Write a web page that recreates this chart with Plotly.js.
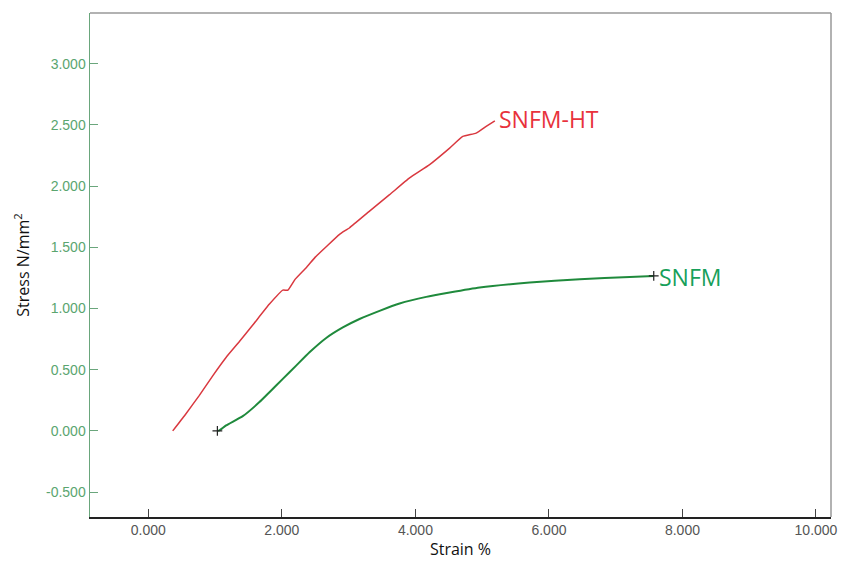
<!DOCTYPE html>
<html>
<head>
<meta charset="utf-8">
<script src="https://cdn.plot.ly/plotly-3.0.1.min.js"></script>
<style>html,body{margin:0;padding:0;background:#fff;}#chart{width:842px;height:562px;}</style>
</head>
<body>
<div id="chart"></div>
<script>
// SNFM-HT (red)
const htStrain = [0.365, 0.55, 0.764, 0.964, 1.164, 1.364, 1.564, 1.814, 2.014, 2.09, 2.2, 2.364, 2.5, 2.664, 2.864, 3.014, 3.313, 3.613, 3.913, 4.213, 4.513, 4.71, 4.91, 5.06, 5.19];
const htStress = [0.0, 0.13, 0.29, 0.45, 0.6, 0.73, 0.865, 1.036, 1.15, 1.15, 1.24, 1.334, 1.42, 1.505, 1.606, 1.66, 1.796, 1.93, 2.067, 2.176, 2.311, 2.406, 2.433, 2.488, 2.534];
// SNFM (green)
const snStrain = [1.034, 1.064, 1.165, 1.414, 1.664, 1.814, 2.014, 2.214, 2.414, 2.664, 2.913, 3.163, 3.463, 3.763, 4.163, 4.513, 4.963, 5.712, 6.462, 7.21, 7.57];
const snStress = [0.0, 0.004, 0.045, 0.12, 0.235, 0.316, 0.425, 0.533, 0.642, 0.759, 0.845, 0.914, 0.981, 1.041, 1.095, 1.13, 1.171, 1.212, 1.239, 1.258, 1.266];
const xTicks = [0, 2, 4, 6, 8, 10];
const xTickText = ["0.000", "2.000", "4.000", "6.000", "8.000", "10.000"];
const yTicks = [-0.5, 0, 0.5, 1, 1.5, 2, 2.5, 3];
const yTickText = ["-0.500", "0.000", "0.500", "1.000", "1.500", "2.000", "2.500", "3.000"];
const seriesNames = ["SNFM-HT", "SNFM"];

const traces = [
  {x: htStrain, y: htStress, mode: 'lines', name: seriesNames[0], line: {color: '#d9383f', width: 1.5, shape: 'spline', smoothing: 0.4}},
  {x: snStrain, y: snStress, mode: 'lines', name: seriesNames[1], line: {color: '#1f8a3c', width: 2, shape: 'spline', smoothing: 0.4}},
  {x: [snStrain[0], snStrain[snStrain.length-1]], y: [snStress[0], snStress[snStress.length-1]], mode: 'markers',
   marker: {symbol: 'cross-thin', size: 7, line: {color: '#222', width: 1.2}}, showlegend: false, hoverinfo: 'skip'}
];

const layout = {
  width: 842, height: 562,
  margin: {l: 90, r: 11, t: 13, b: 45},
  paper_bgcolor: '#fff', plot_bgcolor: '#fff',
  showlegend: false,
  font: {family: 'Liberation Sans, Arial, sans-serif'},
  xaxis: {
    range: [-0.874, 10.225], tickvals: xTicks, ticktext: xTickText,
    ticks: 'inside', ticklen: 8, tickcolor: '#444', tickwidth: 1,
    showgrid: false, zeroline: false, showline: true, linecolor: '#222', linewidth: 1.5,
    tickfont: {size: 14, color: '#555'},
    title: {text: 'Strain %', font: {family: 'Open Sans, sans-serif', size: 16, color: '#111'}, standoff: 4}
  },
  yaxis: {
    range: [-0.704, 3.415], tickvals: yTicks, ticktext: yTickText,
    ticks: 'inside', ticklen: 8, tickcolor: '#6aa67c', tickwidth: 1,
    showgrid: false, zeroline: false, showline: true, linecolor: '#6aa67c', linewidth: 1.5,
    tickfont: {size: 14, color: '#5aa56f'},
    title: {text: 'Stress N/mm<sup>2</sup>', font: {family: 'Open Sans, sans-serif', size: 16, color: '#111'}, standoff: 12}
  },
  shapes: [
    {type: 'line', xref: 'paper', yref: 'paper', x0: 0, x1: 1, y0: 1, y1: 1, line: {color: '#999', width: 1.5}},
    {type: 'line', xref: 'paper', yref: 'paper', x0: 1, x1: 1, y0: 0, y1: 1, line: {color: '#999', width: 1.5}}
  ],
  annotations: [
    {x: htStrain[htStrain.length-1], y: htStress[htStress.length-1], text: seriesNames[0], showarrow: false,
     xanchor: 'left', yanchor: 'middle', xshift: 2, yshift: 2, font: {family: 'Open Sans, sans-serif', size: 23, color: '#e8323c'}},
    {x: snStrain[snStrain.length-1], y: snStress[snStress.length-1], text: seriesNames[1], showarrow: false,
     xanchor: 'left', yanchor: 'middle', xshift: 3, yshift: -1, font: {family: 'Open Sans, sans-serif', size: 23, color: '#17a05a'}}
  ]
};

Plotly.newPlot('chart', traces, layout, {displayModeBar: false, staticPlot: true});
</script>
</body>
</html>
